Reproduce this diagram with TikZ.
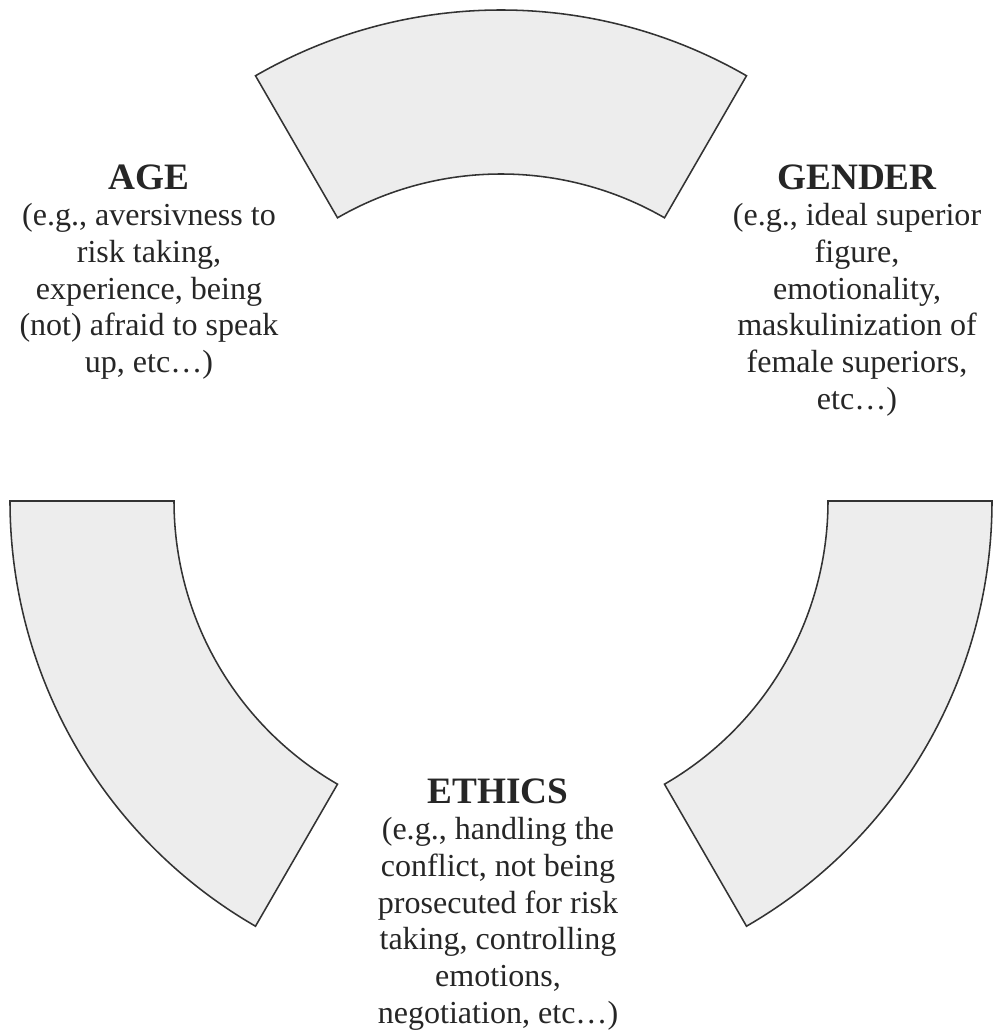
\documentclass[tikz,border=0pt]{standalone}
\usepackage{fontspec}
\setmainfont{Liberation Serif}
\definecolor{sectorgray}{gray}{0.93}
\definecolor{edgegray}{gray}{0.2}
\definecolor{textgray}{gray}{0.15}
\newcommand{\factorhead}[1]{{\fontsize{26.5pt}{26.1pt}\selectfont\bfseries #1}}
\begin{document}
\begin{tikzpicture}[
  sector/.style={draw=edgegray, fill=sectorgray, line width=1.1pt, line join=miter},
  factor/.style={align=center, inner sep=0pt, anchor=north, text=textgray,
    font=\fontsize{22.8pt}{26.1pt}\selectfont}]
  \useasboundingbox (0,0) rectangle (24.85,25.825);
  \coordinate (O) at (12.525,13.3);
  \foreach \a in {60,180,300}
    \draw[sector, shift={(O)}] (\a:12.275) arc[start angle=\a, delta angle=60, radius=12.275]
      -- ({\a+60}:8.175) arc[start angle=\a+60, delta angle=-60, radius=8.175] -- cycle;
  \node[factor] (A) at (3.725,21.72) {\factorhead{AGE}\\(e.g., aversivness to\\risk taking,\\experience, being\\(not) afraid to speak\\up, etc…)};
  \node[factor] (G) at (21.425,21.72) {\factorhead{GENDER}\\(e.g., ideal superior\\figure,\\emotionality,\\maskulinization of\\female superiors,\\etc…)};
  \node[factor] (E) at (12.45,6.37) {\factorhead{ETHICS}\\(e.g., handling the\\conflict, not being\\prosecuted for risk\\taking, controlling\\emotions,\\negotiation, etc…)};
\end{tikzpicture}
\end{document}
